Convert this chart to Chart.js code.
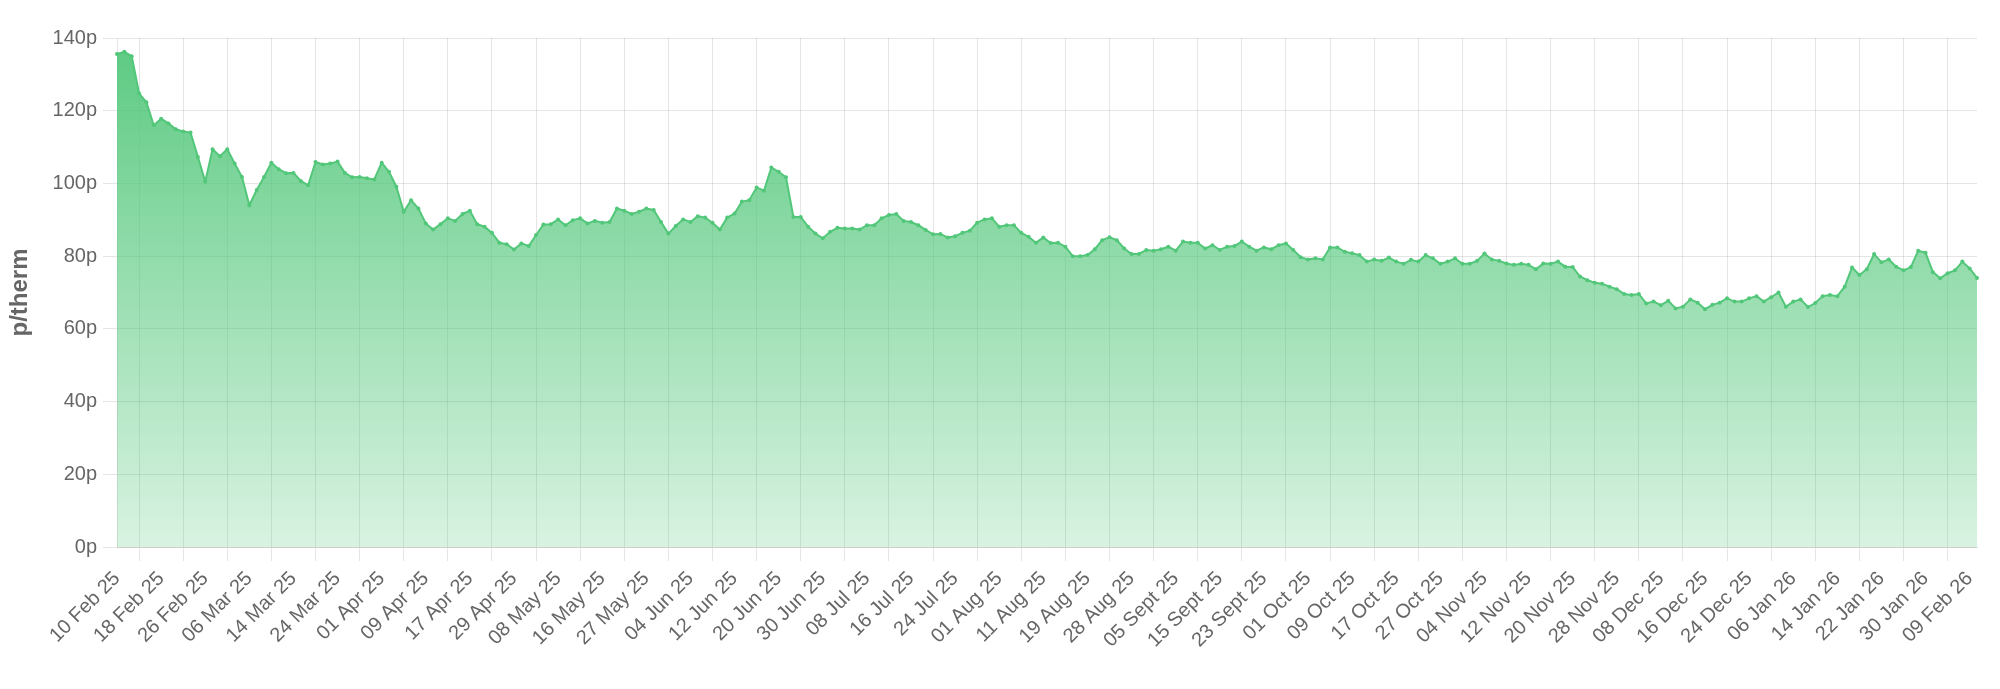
<!DOCTYPE html>
<html>
<head>
<meta charset="utf-8">
<title>Gas price p/therm</title>
<script src="https://cdn.jsdelivr.net/npm/chart.js@4.4.1/dist/chart.umd.min.js"></script>
<style>
  html, body { margin: 0; padding: 0; background: #fff; }
  #wrap { width: 2000px; height: 689px; }
</style>
</head>
<body>
<div id="wrap"><canvas id="priceChart"></canvas></div>
<script>
// --- 数据 ---
// trading days, 10 Feb 25 -> 10 Feb 26
const dates = [
  '10 Feb 25','11 Feb 25','12 Feb 25','13 Feb 25','14 Feb 25','17 Feb 25','18 Feb 25','19 Feb 25','20 Feb 25','21 Feb 25','24 Feb 25','25 Feb 25','26 Feb 25','27 Feb 25','28 Feb 25',
  '03 Mar 25','04 Mar 25','05 Mar 25','06 Mar 25','07 Mar 25','10 Mar 25','11 Mar 25','12 Mar 25','13 Mar 25','14 Mar 25','17 Mar 25','18 Mar 25','19 Mar 25','20 Mar 25','21 Mar 25','24 Mar 25','25 Mar 25','26 Mar 25','27 Mar 25','28 Mar 25','31 Mar 25',
  '01 Apr 25','02 Apr 25','03 Apr 25','04 Apr 25','07 Apr 25','08 Apr 25','09 Apr 25','10 Apr 25','11 Apr 25','14 Apr 25','15 Apr 25','16 Apr 25','17 Apr 25','22 Apr 25','23 Apr 25','24 Apr 25','25 Apr 25','28 Apr 25','29 Apr 25','30 Apr 25',
  '01 May 25','02 May 25','06 May 25','07 May 25','08 May 25','09 May 25','12 May 25','13 May 25','14 May 25','15 May 25','16 May 25','19 May 25','20 May 25','21 May 25','22 May 25','23 May 25','27 May 25','28 May 25','29 May 25','30 May 25',
  '02 Jun 25','03 Jun 25','04 Jun 25','05 Jun 25','06 Jun 25','09 Jun 25','10 Jun 25','11 Jun 25','12 Jun 25','13 Jun 25','16 Jun 25','17 Jun 25','18 Jun 25','19 Jun 25','20 Jun 25','23 Jun 25','24 Jun 25','25 Jun 25','26 Jun 25','27 Jun 25','30 Jun 25',
  '01 Jul 25','02 Jul 25','03 Jul 25','04 Jul 25','07 Jul 25','08 Jul 25','09 Jul 25','10 Jul 25','11 Jul 25','14 Jul 25','15 Jul 25','16 Jul 25','17 Jul 25','18 Jul 25','21 Jul 25','22 Jul 25','23 Jul 25','24 Jul 25','25 Jul 25','28 Jul 25','29 Jul 25','30 Jul 25','31 Jul 25',
  '01 Aug 25','04 Aug 25','05 Aug 25','06 Aug 25','07 Aug 25','08 Aug 25','11 Aug 25','12 Aug 25','13 Aug 25','14 Aug 25','15 Aug 25','18 Aug 25','19 Aug 25','20 Aug 25','21 Aug 25','22 Aug 25','26 Aug 25','27 Aug 25','28 Aug 25','29 Aug 25',
  '01 Sept 25','02 Sept 25','03 Sept 25','04 Sept 25','05 Sept 25','08 Sept 25','09 Sept 25','10 Sept 25','11 Sept 25','12 Sept 25','15 Sept 25','16 Sept 25','17 Sept 25','18 Sept 25','19 Sept 25','22 Sept 25','23 Sept 25','24 Sept 25','25 Sept 25','26 Sept 25','29 Sept 25','30 Sept 25',
  '01 Oct 25','02 Oct 25','03 Oct 25','06 Oct 25','07 Oct 25','08 Oct 25','09 Oct 25','10 Oct 25','13 Oct 25','14 Oct 25','15 Oct 25','16 Oct 25','17 Oct 25','20 Oct 25','21 Oct 25','22 Oct 25','23 Oct 25','24 Oct 25','27 Oct 25','28 Oct 25','29 Oct 25','30 Oct 25','31 Oct 25',
  '03 Nov 25','04 Nov 25','05 Nov 25','06 Nov 25','07 Nov 25','10 Nov 25','11 Nov 25','12 Nov 25','13 Nov 25','14 Nov 25','17 Nov 25','18 Nov 25','19 Nov 25','20 Nov 25','21 Nov 25','24 Nov 25','25 Nov 25','26 Nov 25','27 Nov 25','28 Nov 25',
  '01 Dec 25','02 Dec 25','03 Dec 25','04 Dec 25','05 Dec 25','08 Dec 25','09 Dec 25','10 Dec 25','11 Dec 25','12 Dec 25','15 Dec 25','16 Dec 25','17 Dec 25','18 Dec 25','19 Dec 25','22 Dec 25','23 Dec 25','24 Dec 25','29 Dec 25','30 Dec 25','31 Dec 25',
  '02 Jan 26','05 Jan 26','06 Jan 26','07 Jan 26','08 Jan 26','09 Jan 26','12 Jan 26','13 Jan 26','14 Jan 26','15 Jan 26','16 Jan 26','19 Jan 26','20 Jan 26','21 Jan 26','22 Jan 26','23 Jan 26','26 Jan 26','27 Jan 26','28 Jan 26','29 Jan 26','30 Jan 26',
  '02 Feb 26','03 Feb 26','04 Feb 26','05 Feb 26','06 Feb 26','09 Feb 26','10 Feb 26'
];

// price in p/therm, one per trading day
const prices = [
  135.6, 136.2, 135.0, 124.8, 122.3, 116.0, 117.8, 116.5, 114.9, 114.3,
  114.0, 107.3, 100.5, 109.4, 107.5, 109.4, 105.5, 101.8, 94.0, 98.2,
  101.8, 105.7, 103.9, 102.8, 102.9, 100.7, 99.5, 105.9, 105.2, 105.5,
  106.0, 102.9, 101.7, 101.8, 101.4, 101.1, 105.7, 103.2, 99.1, 92.2,
  95.4, 93.1, 89.0, 87.3, 88.8, 90.4, 89.7, 91.6, 92.5, 88.8,
  88.1, 86.4, 83.7, 83.3, 81.8, 83.5, 82.8, 85.8, 88.7, 88.8,
  90.1, 88.5, 89.9, 90.4, 89.0, 89.7, 89.2, 89.4, 93.1, 92.5,
  91.6, 92.2, 93.1, 92.7, 89.4, 86.2, 88.3, 90.1, 89.4, 91.0,
  90.6, 89.2, 87.3, 90.6, 91.7, 95.0, 95.4, 98.9, 98.0, 104.4,
  103.2, 101.7, 90.8, 90.8, 88.1, 86.2, 84.9, 86.7, 87.8, 87.6,
  87.6, 87.3, 88.5, 88.5, 90.4, 91.3, 91.6, 89.7, 89.4, 88.5,
  87.2, 86.0, 86.1, 85.1, 85.5, 86.4, 87.0, 89.2, 90.1, 90.4,
  88.1, 88.5, 88.5, 86.4, 85.3, 83.7, 85.1, 83.6, 83.7, 82.6,
  80.0, 80.0, 80.3, 81.9, 84.4, 85.2, 84.4, 82.1, 80.6, 80.6,
  81.7, 81.5, 81.9, 82.6, 81.5, 84.0, 83.7, 83.7, 82.1, 83.0,
  81.7, 82.6, 82.8, 84.0, 82.6, 81.5, 82.4, 81.9, 83.0, 83.5,
  81.7, 79.7, 79.1, 79.4, 79.1, 82.4, 82.4, 81.2, 80.8, 80.3,
  78.5, 79.1, 78.7, 79.6, 78.5, 77.9, 79.0, 78.5, 80.3, 79.4,
  77.9, 78.5, 79.4, 77.9, 77.9, 78.7, 80.7, 79.1, 78.7, 78.0,
  77.6, 77.9, 77.6, 76.4, 78.0, 77.9, 78.5, 77.1, 77.0, 74.4,
  73.4, 72.7, 72.4, 71.6, 70.9, 69.6, 69.3, 69.6, 67.0, 67.5,
  66.5, 67.7, 65.6, 66.1, 68.1, 67.2, 65.4, 66.6, 67.2, 68.4,
  67.5, 67.5, 68.4, 69.0, 67.5, 68.7, 70.0, 66.1, 67.5, 68.1,
  66.0, 67.1, 69.0, 69.3, 69.0, 71.6, 76.9, 74.8, 76.4, 80.6,
  78.3, 79.1, 77.1, 76.1, 77.0, 81.5, 80.9, 75.6, 73.9, 75.3,
  76.1, 78.5, 76.6, 74.0
];

const yTickValues = [0, 20, 40, 60, 80, 100, 120, 140];

// show a date every 6 trading days, grid line half way between
const labelEvery = 6;

// --- 样式 ---
const lineGreen = 'rgb(82, 199, 122)';
const gridGrey = 'rgba(0,0,0,0.1)';
const tickGrey = '#666';
const fontFamily = "'Helvetica Neue', Helvetica, Arial, 'Liberation Sans', sans-serif";

// 渐变填充，从上到下变浅
const areaGradient = (context) => {
  const { ctx, chartArea } = context.chart;
  if (!chartArea) return 'rgba(82, 199, 122, 0.6)';
  const g = ctx.createLinearGradient(0, chartArea.top, 0, chartArea.bottom);
  g.addColorStop(0, 'rgba(82, 199, 122, 0.95)');
  g.addColorStop(1, 'rgba(82, 199, 122, 0.22)');
  return g;
};

const ctx = document.getElementById('priceChart').getContext('2d');

const priceChart = new Chart(ctx, {
  type: 'line',
  data: {
    labels: dates,
    datasets: [{
      label: 'p/therm',
      data: prices,
      borderColor: lineGreen,
      backgroundColor: areaGradient,
      borderWidth: 2,
      pointRadius: 2,
      pointBackgroundColor: lineGreen,
      pointBorderColor: lineGreen,
      pointBorderWidth: 0,
      tension: 0,
      fill: 'origin'
    }]
  },
  options: {
    responsive: true,
    maintainAspectRatio: false,
    animation: false,
    layout: { padding: { top: 38, right: 22, bottom: 0, left: 0 } },
    plugins: {
      legend: { display: false },
      tooltip: { enabled: false }
    },
    scales: {
      x: {
        offset: false,
        afterFit: (scale) => { scale.height = 142; },
        grid: {
          tickLength: 14,
          color: (c) => (c.index % labelEvery === labelEvery / 2 ? gridGrey : 'rgba(0,0,0,0)')
        },
        border: { color: gridGrey },
        ticks: {
          autoSkip: false,
          minRotation: 45,
          maxRotation: 45,
          padding: 6,
          color: tickGrey,
          font: { family: fontFamily, size: 20 },
          callback: (v, i) => (i % labelEvery === 0 ? dates[i] : '')
        }
      },
      y: {
        min: 0,
        max: 140,
        afterFit: (scale) => { scale.width = 117; },
        afterBuildTicks: (scale) => { scale.ticks = yTickValues.map(v => ({ value: v })); },
        grid: { color: gridGrey, tickLength: 14 },
        border: { color: gridGrey },
        title: {
          display: true,
          text: 'p/therm',
          color: tickGrey,
          padding: { top: 6, bottom: 0 },
          font: { family: fontFamily, size: 24, weight: 'bold' }
        },
        ticks: {
          padding: 6,
          color: tickGrey,
          font: { family: fontFamily, size: 20 },
          callback: (v) => v + 'p'
        }
      }
    }
  }
});
</script>
</body>
</html>
